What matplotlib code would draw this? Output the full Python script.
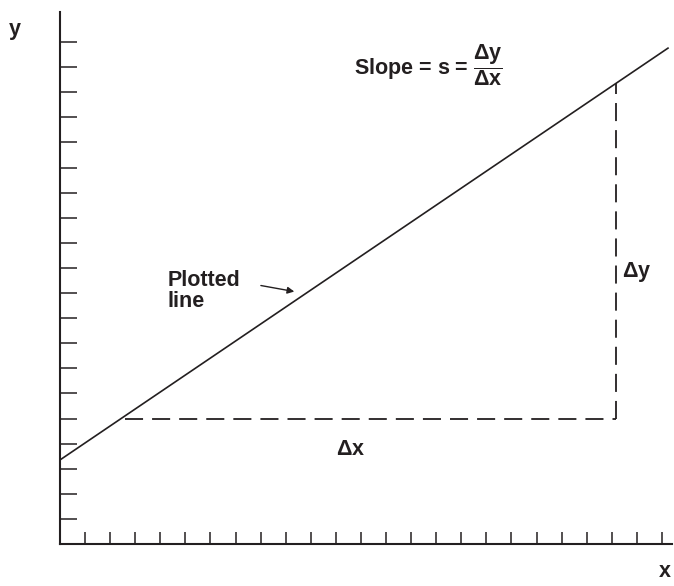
import numpy as np
import matplotlib
matplotlib.use('Agg')
import matplotlib.pyplot as plt

plt.rcParams['font.family'] = ['Liberation Sans', 'DejaVu Sans']
plt.rcParams['font.weight'] = 'bold'
plt.rcParams['mathtext.fontset'] = 'custom'
plt.rcParams['mathtext.rm'] = 'Liberation Sans:bold'
plt.rcParams['mathtext.it'] = 'Liberation Sans:bold'
plt.rcParams['mathtext.bf'] = 'Liberation Sans:bold'

# data (in tick units)
line_x = [0.0, 24.24]
line_y = [3.35, 19.76]
run_x = [2.6, 22.17]      # horizontal dashed leg
rise_y = [5.0, 18.36]     # vertical dashed leg
x_ticks = np.arange(1, 25)
y_ticks = np.arange(1, 21)

ink = '#231f20'

fig = plt.figure(figsize=(6.74, 5.86), dpi=100)
ax = fig.add_axes([60/674, 42/586, 612/674, 532/586])
ax.set_xlim(0, 24.4)
ax.set_ylim(0, 21.2)

ax.plot(line_x, line_y, color=ink, lw=1.2)
ax.plot(run_x, [rise_y[0], rise_y[0]], color=ink, lw=1.3, dashes=(10, 5))
ax.plot([run_x[1], run_x[1]], rise_y, color=ink, lw=1.3, dashes=(10, 5))

for s in ['top', 'right']:
    ax.spines[s].set_visible(False)
for s in ['left', 'bottom']:
    ax.spines[s].set_linewidth(1.5)
    ax.spines[s].set_color(ink)

ax.set_xticks(x_ticks)
ax.set_yticks(y_ticks)
ax.set_xticklabels([])
ax.set_yticklabels([])
ax.tick_params(axis='x', direction='in', length=8.6, width=1.1, color=ink)
ax.tick_params(axis='y', direction='in', length=12, width=1.1, color=ink)

fs = 15.5
ax.text(-1.8, 20.5, 'y', fontsize=fs, color=ink, ha='center', va='center', clip_on=False)
ax.text(24.1, -1.3, 'x', fontsize=fs, color=ink, ha='center', va='baseline', clip_on=False)
ax.text(14.7, 19.08, r'Slope = s = $\dfrac{\Delta y}{\Delta x}$', fontsize=fs, color=ink,
        ha='center', va='center')
ax.text(23.0, 10.84, r'$\Delta$y', fontsize=fs, color=ink, ha='center', va='center')
ax.text(11.6, 3.75, r'$\Delta$x', fontsize=fs, color=ink, ha='center', va='center')
ax.text(4.3, 10.1, 'Plotted\nline', fontsize=fs, color=ink, ha='left', va='center',
        linespacing=1.0)
ax.annotate('', xy=(9.45, 10.04), xytext=(7.9, 10.32),
            arrowprops=dict(arrowstyle='-|>', color=ink, lw=1.0, mutation_scale=10))

fig.savefig('out.png', dpi=100)
